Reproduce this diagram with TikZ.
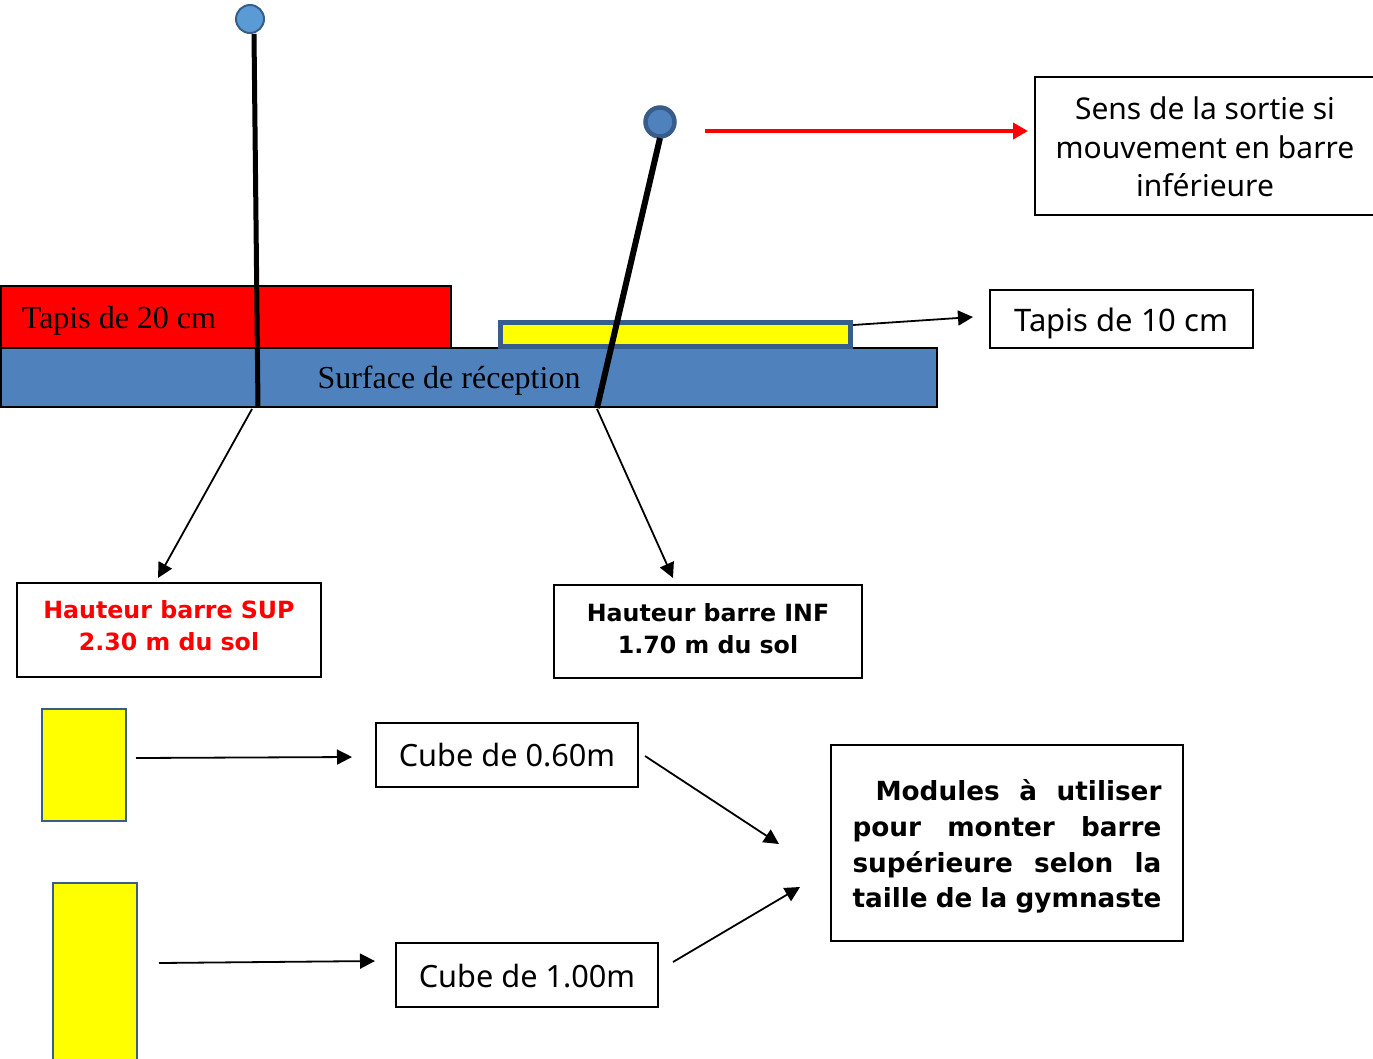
\documentclass[tikz,border=0pt]{standalone}
\usepackage{fontspec}
\setmainfont{Noto Sans}
\newfontfamily\serifface{Liberation Serif}
\newfontfamily\heavyface{DejaVu Sans Bold}
\usetikzlibrary{arrows.meta}
\definecolor{matblue}{HTML}{4F81BD}
\definecolor{darkedge}{HTML}{385D8A}
\definecolor{ballblue}{HTML}{5B9BD5}
\definecolor{pureyellow}{HTML}{FFFF00}
\definecolor{purered}{HTML}{FF0000}
\tikzset{
  every node/.style={outer sep=0pt},
  box/.style={draw=black,line width=1.6pt,fill=white,inner sep=0pt,align=center,font=\fontsize{31}{38.5}\selectfont},
  boldbox/.style={box,font=\heavyface\fontsize{23.7}{32}\selectfont},
  mat/.style={draw=black,line width=2.4pt,inner sep=0pt,anchor=north west},
  cube/.style={draw=darkedge,line width=1.6pt,fill=pureyellow,inner sep=0pt,anchor=north west},
  bar/.style={line width=5pt,black},
  ball/.style={circle,draw=darkedge,line width=2pt,fill=ballblue,inner sep=0pt},
  arr/.style={-{Triangle[length=15pt,width=15pt]},line width=1.8pt,black},
  redarr/.style={-{Triangle[length=15pt,width=16pt]},line width=3.6pt,purered},
  seriftext/.style={font=\serifface\fontsize{32}{38}\selectfont,inner sep=0pt}
}
\begin{document}
\begin{tikzpicture}[x=1pt,y=-1pt]
\useasboundingbox (0,0) rectangle (1373,1058);
% mats
\node[mat,fill=purered,minimum width=450pt,minimum height=62pt] (red) at (1,286) {};
\node[mat,fill=matblue,minimum width=936pt,minimum height=59pt] (blue) at (1,348) {};
\node[anchor=north west,draw=darkedge,line width=5pt,fill=pureyellow,inner sep=0pt,minimum width=350pt,minimum height=24pt] (thin) at (500.5,322.5) {};
\node[seriftext] (t20) at (119,321) {Tapis de 20 cm};
\node[seriftext] (surf) at (449,381) {Surface de réception};
% bars
\node[ball,minimum size=28pt] (b1) at (250,19) {};
\node[ball,line width=4.5pt,fill=matblue,minimum size=29pt] (b2) at (660,122) {};
\coordinate (b1foot) at (258,407);
\coordinate (b2foot) at (597,408);
\coordinate (b1top) at (254,34);
\coordinate (b2top) at (660,138);
\draw[bar] (b1top) -- (b1foot);
\draw[bar,line width=6pt] (b2top) -- (b2foot);
% boxes
\node[box,minimum width=345pt,minimum height=138pt,anchor=north west] (sens) at (1035,77) {};
\node[box,draw=none,fill=none,anchor=center,font=\fontsize{30}{38.5}\selectfont] (senst) at (1205,147) {Sens de la sortie si\\mouvement en barre\\inférieure};
\node[box,minimum width=263pt,minimum height=58pt,anchor=north west] (t10) at (990,290) {\raisebox{-12.5pt}[0pt][0pt]{Tapis de 10 cm}};
\node[boldbox,text=purered,minimum width=304pt,minimum height=94pt,anchor=north west] (sup) at (17,583) {\raisebox{-4pt}[0pt][0pt]{\begin{tabular}{@{}c@{}}Hauteur barre SUP\\2.30 m du sol\end{tabular}}};
\node[boldbox,line width=2.2pt,minimum width=308pt,minimum height=93pt,anchor=north west] (inf) at (554,585) {\raisebox{-5.5pt}[0pt][0pt]{\begin{tabular}{@{}c@{}}Hauteur barre INF\\1.70 m du sol\end{tabular}}};
\node[box,font=\fontsize{30.7}{38.5}\selectfont,minimum width=262pt,minimum height=64pt,anchor=north west] (c60) at (376,723) {\raisebox{-11.5pt}[0pt][0pt]{Cube de 0.60m}};
\node[box,font=\fontsize{30.7}{38.5}\selectfont,line width=2.2pt,minimum width=262pt,minimum height=64pt,anchor=north west] (c100) at (396,943) {\raisebox{-12pt}[0pt][0pt]{Cube de 1.00m}};
\node[boldbox,minimum width=352pt,minimum height=196pt,anchor=north west,font=\heavyface\fontsize{26.3}{35.7}\selectfont] (mod) at (831,745) {%
\vbox{\hsize=309pt\baselineskip=35.7pt\kern7pt
\hbox to 309pt{\hspace*{23pt}Modules\hfill à\hfill utiliser}%
\hbox to 309pt{pour\hfill monter\hfill barre}%
\hbox to 309pt{supérieure\hfill selon\hfill la}%
\hbox to 309pt{taille de la gymnaste\hfill}}};
% cubes
\node[cube,minimum width=84pt,minimum height=112pt] (y60) at (42,709) {};
\node[cube,minimum width=84pt,minimum height=180pt] (y100) at (53,883) {};
% connectors
\coordinate (a1) at (252,409); \coordinate (a1e) at (158,578);
\coordinate (a2) at (597,409); \coordinate (a2e) at (673,578);
\coordinate (r1) at (705,131); \coordinate (r1e) at (1028,131);
\coordinate (t1) at (853,325); \coordinate (t1e) at (973,317);
\coordinate (c1) at (136,758); \coordinate (c1e) at (352,757);
\coordinate (c2) at (159,963); \coordinate (c2e) at (375,961);
\coordinate (m1) at (645,756); \coordinate (m1e) at (779,844);
\coordinate (m2) at (673,962); \coordinate (m2e) at (800,887);
\draw[arr] (a1) -- (a1e);
\draw[arr] (a2) -- (a2e);
\draw[redarr] (r1) -- (r1e);
\draw[arr] (t1) -- (t1e);
\draw[arr] (c1) -- (c1e);
\draw[arr] (c2) -- (c2e);
\draw[arr] (m1) -- (m1e);
\draw[arr] (m2) -- (m2e);
\end{tikzpicture}
\end{document}
